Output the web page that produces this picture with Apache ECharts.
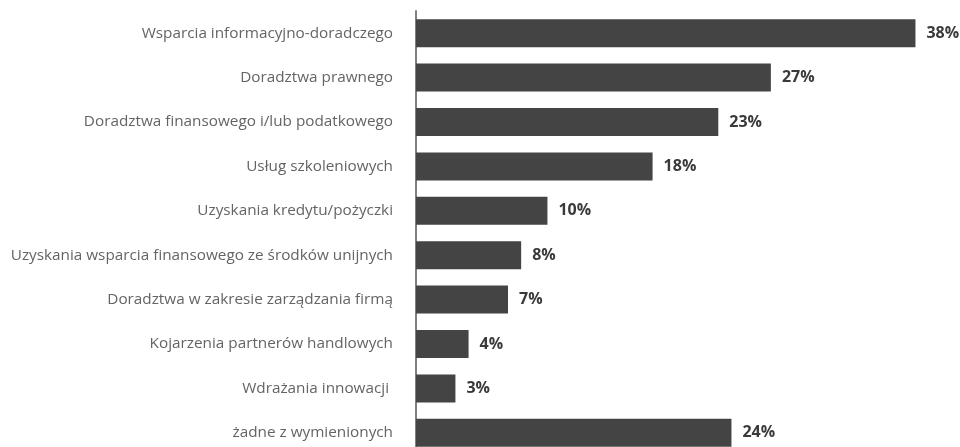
<!DOCTYPE html>
<html>
<head>
<meta charset="utf-8">
<script src="https://cdn.jsdelivr.net/npm/echarts@6/dist/echarts.min.js"></script>
<style>
  html, body { margin: 0; padding: 0; background: #fff; }
  #chart { width: 960px; height: 447px; }
</style>
</head>
<body>
<div id="chart"></div>
<script>
// Categories, top to bottom
const categories = [
  'Wsparcia informacyjno-doradczego',
  'Doradztwa prawnego',
  'Doradztwa finansowego i/lub podatkowego',
  'Usług szkoleniowych',
  'Uzyskania kredytu/pożyczki',
  'Uzyskania wsparcia finansowego ze środków unijnych',
  'Doradztwa w zakresie zarządzania firmą',
  'Kojarzenia partnerów handlowych',
  'Wdrażania innowacji ',
  'żadne z wymienionych'
];

// Share of answers, percent
const values = [38, 27, 23, 18, 10, 8, 7, 4, 3, 24];

const chart = echarts.init(document.getElementById('chart'), null, { renderer: 'canvas' });

chart.setOption({
  animation: false,
  backgroundColor: '#ffffff',
  // the last band runs slightly past the bottom edge
  grid: {
    left: 416, width: 531, top: 11, height: 444,
    containLabel: false,
    outerBoundsMode: 'none'
  },
  xAxis: {
    type: 'value',
    min: 0,
    max: 40.4,
    show: false
  },
  yAxis: {
    type: 'category',
    inverse: true,
    data: categories,
    axisLine: { show: true, lineStyle: { color: '#808080', width: 2 } },
    axisTick: { show: false },
    axisLabel: {
      margin: 23,
      color: '#646464',
      fontFamily: '"Open Sans", sans-serif',
      fontSize: 15.3
    }
  },
  series: [{
    type: 'bar',
    data: values,
    barWidth: 28,
    itemStyle: { color: '#444444' },
    label: {
      show: true,
      position: 'right',
      distance: 11,
      formatter: '{c}%',
      color: '#3a3a3a',
      fontFamily: '"Open Sans", sans-serif',
      fontWeight: 'bold',
      fontSize: 16
    }
  }]
});
</script>
</body>
</html>
